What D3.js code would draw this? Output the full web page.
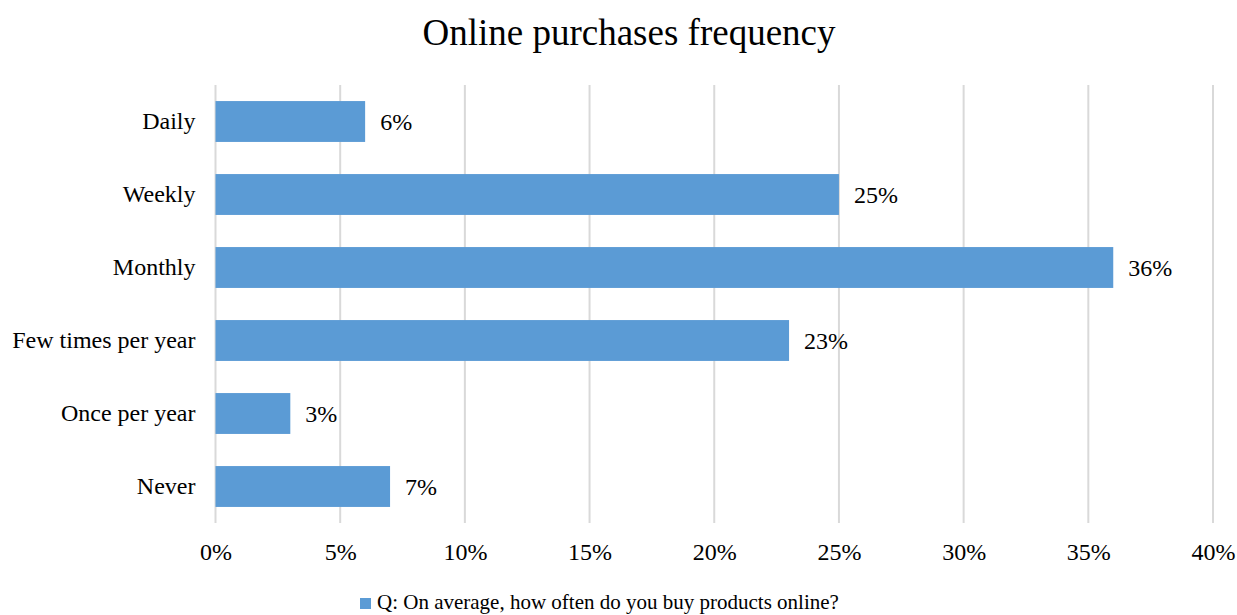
<!DOCTYPE html>
<html><head><meta charset="utf-8">
<script src="https://cdn.jsdelivr.net/npm/d3@7"></script>
<style>body{margin:0;background:#fff}svg{display:block}text{font-family:"Liberation Serif","Times New Roman",serif;fill:#000}</style>
</head><body><svg id="c" width="1237" height="615"></svg>
<script>
const categories = ["Daily","Weekly","Monthly","Few times per year","Once per year","Never"];
const values = [6,25,36,23,3,7];
const ticks = [0,5,10,15,20,25,30,35,40];
const title = "Online purchases frequency";
const seriesName = "Q: On average, how often do you buy products online?";

const svg = d3.select("#c");
const L=215.5, R=1213, T=85, B=523;
const x = d3.scaleLinear().domain([0,40]).range([L,R]);
const y = d3.scaleBand().domain(categories).range([T,B]).paddingInner(0.44).paddingOuter(0.22);

svg.append("g").selectAll("line").data(ticks).join("line")
  .attr("x1",d=>x(d)).attr("x2",d=>x(d)).attr("y1",T).attr("y2",B)
  .attr("stroke","#d9d9d9").attr("stroke-width",2);

svg.append("g").selectAll("rect").data(values).join("rect")
  .attr("x",x(0)).attr("y",(d,i)=>y(categories[i])).attr("width",d=>x(d)-x(0))
  .attr("height",y.bandwidth()).attr("fill","#5b9bd5");

svg.append("g").selectAll("text").data(values).join("text")
  .attr("x",d=>x(d)+15).attr("y",(d,i)=>y(categories[i])+y.bandwidth()/2)
  .attr("dy","0.35em").attr("font-size",24).text(d=>d+"%");

const yAxis = d3.axisLeft(y).tickSize(0).tickPadding(20);
const gy = svg.append("g").attr("transform",`translate(${L},0)`).call(yAxis);
gy.select(".domain").remove();
gy.selectAll("text").attr("font-size",24).attr("font-family","Liberation Serif").attr("fill","#000");

const xAxis = d3.axisBottom(x).tickValues(ticks).tickFormat(d=>d+"%").tickSize(0).tickPadding(20);
const gx = svg.append("g").attr("transform",`translate(0,${B})`).call(xAxis);
gx.select(".domain").remove();
gx.selectAll("text").attr("font-size",24).attr("font-family","Liberation Serif").attr("fill","#000");

svg.append("text").attr("x",629).attr("y",45).attr("text-anchor","middle").attr("font-size",37).text(title);

const lg = svg.append("g");
lg.append("rect").attr("x",360).attr("y",598).attr("width",11).attr("height",11).attr("fill","#5b9bd5");
lg.append("text").attr("x",377).attr("y",609).attr("font-size",21).text(seriesName);
</script></body></html>
